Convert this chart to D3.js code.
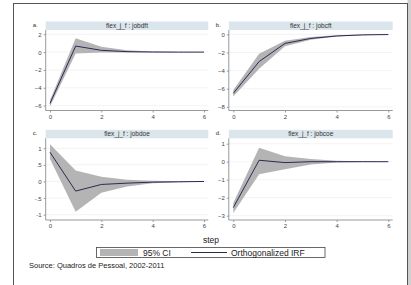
<!DOCTYPE html>
<html>
<head>
<meta charset="utf-8">
<script src="https://cdn.jsdelivr.net/npm/d3@7"></script>
<style>
  body { margin: 0; background: #fff; }
  svg { display: block; font-family: "Liberation Sans", Arial, sans-serif; }
  .tick text { fill: #444; font-size: 6px; }
</style>
</head>
<body>
<div id="chart"></div>
<script>
var steps = [0, 1, 2, 3, 4, 5, 6];
var xTicks = [0, 2, 4, 6];

var titles = ["flex_j_f : jobdft", "flex_j_f : jobcft", "flex_j_f : jobdoe", "flex_j_f : jobcoe"];
var letters = ["a.", "b.", "c.", "d."];

// orthogonalized IRF per panel
var irfA = [-5.75, 0.68, 0.2, 0.05, 0.01, 0.0, 0.0];
var irfB = [-6.5, -3.0, -1.0, -0.45, -0.18, -0.06, -0.02];
var irfC = [0.88, -0.29, -0.09, -0.05, -0.02, -0.01, 0.0];
var irfD = [-2.55, 0.08, -0.05, 0.0, 0.0, 0.0, 0.0];

// 95% CI bounds
var lowA = [-6.1, -0.15, -0.05, -0.05, -0.02, -0.01, 0.0];
var highA = [-5.4, 1.55, 0.6, 0.2, 0.06, 0.02, 0.0];
var lowB = [-6.85, -3.8, -1.3, -0.6, -0.25, -0.1, -0.03];
var highB = [-6.15, -2.15, -0.7, -0.3, -0.1, -0.03, 0.0];
var lowC = [0.68, -0.91, -0.34, -0.15, -0.05, -0.02, -0.01];
var highC = [1.12, 0.33, 0.14, 0.05, 0.02, 0.01, 0.0];
var lowD = [-2.85, -0.7, -0.42, -0.15, -0.05, -0.02, 0.0];
var highD = [-2.3, 0.78, 0.3, 0.15, 0.05, 0.02, 0.0];

var yTicksA = [-6, -4, -2, 0, 2];
var yTicksB = [-8, -6, -4, -2, 0];
var yTicksC = [-1, -0.5, 0, 0.5, 1];
var yTicksD = [-3, -2, -1, 0, 1];
var yLabelsC = ["-1", "-.5", "0", ".5", "1"];

var legendLabels = ["95% CI", "Orthogonalized IRF"];
var sourceText = "Source: Quadros de Pessoal, 2002-2011";

var svgWidth = 411, svgHeight = 285;

var svg = d3.select("#chart").append("svg")
  .attr("width", svgWidth)
  .attr("height", svgHeight);

// outer frame
svg.append("rect").attr("x", 407.5).attr("y", 0).attr("width", 4).attr("height", svgHeight).attr("fill", "#d0d0d0");
svg.append("rect")
  .attr("x", 13.5).attr("y", 3.5)
  .attr("width", 394).attr("height", 300)
  .attr("fill", "#fff")
  .attr("stroke", "#555")
  .attr("stroke-width", 1);

var panels = [
  { irf: irfA, low: lowA, high: highA, ticks: yTicksA, domain: [-6.55, 2.48], left: 45.7, right: 208.3, top: 30, bottom: 110.5, x0: 50, x6: 204 },
  { irf: irfB, low: lowB, high: highB, ticks: yTicksB, domain: [-8.4, 0.48], left: 228.8, right: 392.7, top: 30, bottom: 110.5, x0: 233.3, x6: 388.3 },
  { irf: irfC, low: lowC, high: highC, ticks: yTicksC, domain: [-1.16, 1.3], left: 45.7, right: 208.3, top: 138.3, bottom: 220, x0: 50, x6: 204 },
  { irf: irfD, low: lowD, high: highD, ticks: yTicksD, domain: [-3.24, 1.3], left: 228.8, right: 392.7, top: 138.3, bottom: 220, x0: 233.3, x6: 388.3 }
];

panels.forEach(function(p, i) {
  var x = d3.scaleLinear().domain([0, 6]).range([p.x0, p.x6]);
  var y = d3.scaleLinear().domain(p.domain).range([p.bottom, p.top]);
  var g = svg.append("g");

  // strip
  g.append("rect")
    .attr("x", p.left).attr("y", p.top - 8.5)
    .attr("width", p.right - p.left).attr("height", 8.5)
    .attr("fill", "#dae6ec");
  g.append("text")
    .attr("x", (p.left + p.right) / 2).attr("y", p.top - 2)
    .attr("text-anchor", "middle")
    .attr("font-size", "6.5px")
    .attr("fill", "#333")
    .text(titles[i]);
  g.append("text")
    .attr("x", p.left - 13).attr("y", p.top - 3)
    .attr("font-size", "6px")
    .attr("fill", "#333")
    .text(letters[i]);

  // gridlines
  g.selectAll(".grid").data(p.ticks).enter().append("line")
    .attr("x1", p.left).attr("x2", p.right)
    .attr("y1", d => y(d)).attr("y2", d => y(d))
    .attr("stroke", "#eef0f2").attr("stroke-width", 0.8);

  // CI band
  var area = d3.area()
    .x((d, j) => x(steps[j]))
    .y0((d, j) => y(p.low[j]))
    .y1((d, j) => y(p.high[j]));
  g.append("path").datum(steps).attr("d", area).attr("fill", "#b4b4b4");

  // IRF line
  var line = d3.line().x((d, j) => x(steps[j])).y(d => y(d));
  g.append("path").datum(p.irf).attr("d", line)
    .attr("fill", "none").attr("stroke", "#2a2a55").attr("stroke-width", 1);

  // axes
  var leftAxis = d3.axisLeft(y).tickValues(p.ticks).tickSize(2).tickPadding(2)
    .tickFormat((d, j) => i == 2 ? yLabelsC[j] : d3.format("d")(d));
  var ax = g.append("g").attr("transform", `translate(${p.left},0)`).call(leftAxis);
  ax.select(".domain").attr("d", `M-0,${p.top}V${p.bottom}`);

  var bottomAxis = d3.axisBottom(x).tickValues(xTicks).tickSize(2).tickPadding(2)
    .tickFormat(d3.format("d"));
  var bx = g.append("g").attr("transform", `translate(0,${p.bottom})`).call(bottomAxis);
  bx.select(".domain").attr("d", `M${p.left},0H${p.right}`);

  [ax, bx].forEach(function(a) {
    a.select(".domain").attr("stroke", "#999");
    a.selectAll(".tick line").attr("stroke", "#999");
  });
});

// x axis title
svg.append("text")
  .attr("x", 211).attr("y", 243)
  .attr("text-anchor", "middle")
  .attr("font-size", "8.5px")
  .attr("fill", "#222")
  .text("step");

// legend
var legend = svg.append("g");
legend.append("rect")
  .attr("x", 96.5).attr("y", 247.5).attr("width", 228.5).attr("height", 10)
  .attr("fill", "#fff").attr("stroke", "#444").attr("stroke-width", 0.8);
legend.append("rect")
  .attr("x", 100).attr("y", 249).attr("width", 38).attr("height", 7)
  .attr("fill", "#b4b4b4");
legend.append("text")
  .attr("x", 143).attr("y", 255.6).attr("font-size", "8.5px").attr("fill", "#222")
  .text(legendLabels[0]);
legend.append("line")
  .attr("x1", 191).attr("x2", 227).attr("y1", 252.5).attr("y2", 252.5)
  .attr("stroke", "#2a2a55").attr("stroke-width", 1);
legend.append("text")
  .attr("x", 231).attr("y", 255.6).attr("font-size", "8.5px").attr("fill", "#222")
  .text(legendLabels[1]);

svg.append("text")
  .attr("x", 29).attr("y", 268)
  .attr("font-size", "7.5px")
  .attr("fill", "#222")
  .text(sourceText);
</script>
</body>
</html>
